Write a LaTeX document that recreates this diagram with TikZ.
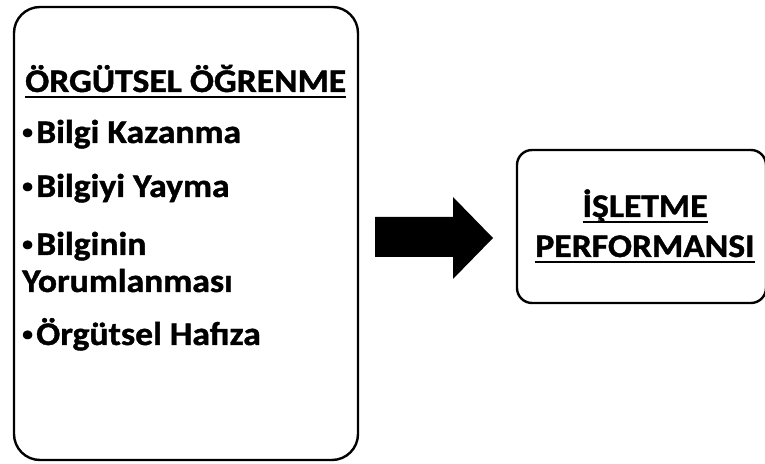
\documentclass[tikz,border=0pt]{standalone}
\usepackage{fontspec}
\setmainfont{Carlito}[BoldFont={Carlito Bold},UprightFont={Carlito},FakeStretch=1.08,BoldFeatures={FakeBold=1.2}]
\newcommand\myul[1]{\setbox0\hbox{#1}\rlap{\rule[-6.2pt]{\wd0}{1.8pt}}\box0}
\newcommand\mybul{\makebox[14pt][l]{\fontsize{20}{20}\selectfont\raisebox{4.5pt}{•}}}
\begin{document}
\begin{tikzpicture}[x=1pt,y=1pt,
  boxstyle/.style={draw=black,line width=2.4pt,fill=white},
  itemtext/.style={anchor=base west,inner sep=0pt,font=\bfseries\fontsize{33}{38}\selectfont},
  titletext/.style={anchor=base west,inner sep=0pt,font=\bfseries\fontsize{33}{38}\selectfont},
  righttext/.style={anchor=base,inner sep=0pt,font=\bfseries\fontsize{33}{38}\selectfont}]
\useasboundingbox (0,0) rectangle (765,463);
\fill[white] (0,0) rectangle (765,463);
% left box
\draw[boxstyle,rounded corners=26pt] (14,3) rectangle (358,456);
\node[titletext] (title) at (25,371) {\myul{ÖRGÜTSEL ÖĞRENME}};
\node[itemtext] (i1) at (22,320) {\mybul Bilgi Kazanma};
\node[itemtext] (i2) at (22,266) {\mybul Bilgiyi Yayma};
\node[itemtext] (i3) at (22,208) {\mybul Bilginin};
\node[itemtext] (i3b) at (22,171) {Yorumlanması};
\node[itemtext] (i4) at (22,118) {\mybul Örgütsel Hafıza};
% right box
\draw[boxstyle,rounded corners=15pt] (517,160) rectangle (766,313);
\node[righttext] (r1) at (645,246) {\myul{İŞLETME}};
\node[righttext] (r2) at (645,206) {\myul{PERFORMANSI}};
% block arrow
\coordinate (a1) at (375,246);
\coordinate (a2) at (453,246);
\coordinate (a3) at (453,266);
\coordinate (tip) at (493,225);
\coordinate (a5) at (453,184);
\coordinate (a6) at (453,206);
\coordinate (a7) at (375,206);
\fill[black] (a1) -- (a2) -- (a3) -- (tip) -- (a5) -- (a6) -- (a7) -- cycle;
\end{tikzpicture}
\end{document}
